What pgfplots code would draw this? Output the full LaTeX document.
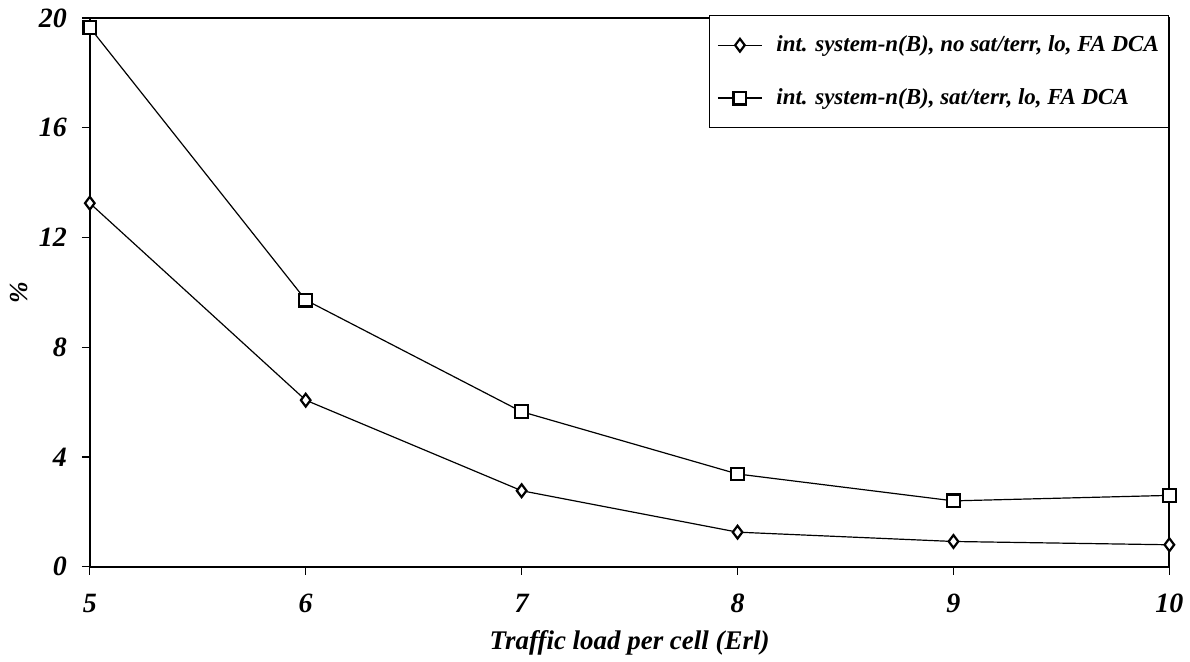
\documentclass[border=0pt]{standalone}
\usepackage{pgfplots}
\pgfplotsset{compat=1.18}
\usepackage{fontspec}
\setmainfont{Liberation Serif}
\begin{document}
\begin{tikzpicture}
\begin{axis}[
  scale only axis,
  width=541pt, height=275pt,
  xmin=5, xmax=10, ymin=0, ymax=20,
  xtick={5,6,7,8,9,10},
  ytick={0,4,8,12,16,20},
  axis line style={line width=1pt},
  tick align=outside,
  tick pos=left,
  major tick length=4pt,
  tick style={line width=0.6pt, black},
  /pgf/number format/assume math mode=true,
  tick label style={font=\fontsize{14}{14}\selectfont\bfseries\itshape},
  xticklabel style={yshift=-6pt},
  yticklabel style={xshift=-4pt},
  xlabel={Traffic load per cell (Erl)},
  ylabel={\%},
  xlabel style={at={(axis description cs:0.5,0)}, anchor=center, yshift=-38pt, font=\fontsize{13.5}{14}\selectfont\bfseries\itshape},
  ylabel style={at={(axis description cs:-0.066,0.5)}, anchor=center, font=\fontsize{13}{14}\selectfont\bfseries\itshape},
  legend style={at={(1,1.005)}, anchor=north east, draw=black, line width=0.6pt,
    font=\fontsize{11.5}{12}\selectfont\bfseries\itshape,
    inner xsep=4pt, inner ysep=9pt, row sep=15pt,
    nodes={inner sep=1pt},
    /tikz/every odd column/.append style={column sep=6pt}},
  legend cell align=left,
  legend image code/.code={\draw[#1, mark repeat=2, mark phase=2] plot coordinates {(0pt,0pt)(11pt,0pt)(22pt,0pt)};},
]
\addplot[black, line width=0.6pt, mark=diamond*, mark size=3.2pt, mark options={fill=white, line width=1.1pt, solid}]
  coordinates {(5,13.25) (6,6.07) (7,2.77) (8,1.26) (9,0.92) (10,0.80)};
\addlegendentry{int. system-n(B), no sat/terr, lo, FA DCA}
\addplot[black, line width=0.6pt, mark=square*, mark size=3.2pt, mark options={fill=white, line width=1.1pt, solid}]
  coordinates {(5,19.65) (6,9.72) (7,5.65) (8,3.38) (9,2.40) (10,2.60)};
\addlegendentry{int. system-n(B), sat/terr, lo, FA DCA}
\end{axis}
\path ([shift={(-45pt,-46pt)}]current axis.south west) rectangle ([shift={(9pt,9pt)}]current axis.north east);
\end{tikzpicture}
\end{document}
